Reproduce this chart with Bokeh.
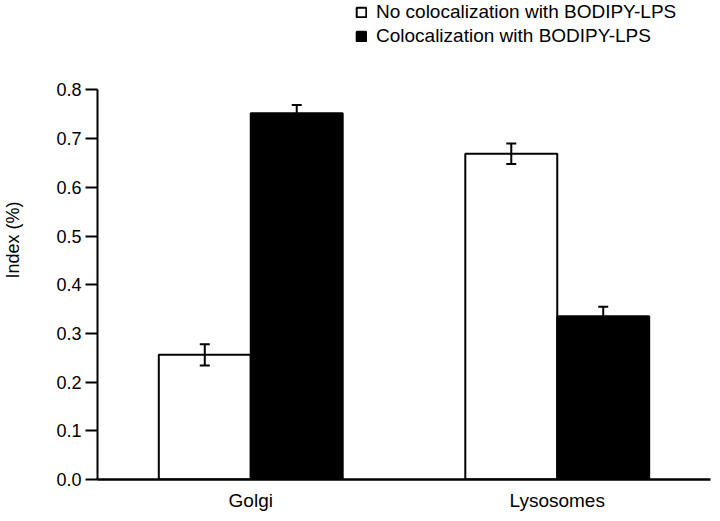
from bokeh.plotting import figure
from bokeh.models import (ColumnDataSource, FactorRange, Range1d, FixedTicker, NumeralTickFormatter,
                          Whisker, TeeHead, Legend, LegendItem)
from bokeh.transform import dodge
from bokeh.embed import file_html
from bokeh.resources import INLINE

# ---- data ----
categories = ["Golgi", "Lysosomes"]
no_coloc = [0.256, 0.669]
no_coloc_err = [0.022, 0.021]
coloc = [0.752, 0.335]
coloc_err = [0.017, 0.020]
y_ticks = [0.0, 0.1, 0.2, 0.3, 0.4, 0.5, 0.6, 0.7, 0.8]
series_names = ["No colocalization with BODIPY-LPS", "Colocalization with BODIPY-LPS"]

FONT = "Liberation Sans"

src = ColumnDataSource(data=dict(
    cat=categories,
    no=no_coloc,
    no_lo=[v - e for v, e in zip(no_coloc, no_coloc_err)],
    no_hi=[v + e for v, e in zip(no_coloc, no_coloc_err)],
    co=coloc,
    co_lo=[v - e for v, e in zip(coloc, coloc_err)],
    co_hi=[v + e for v, e in zip(coloc, coloc_err)],
))

FRAME_H = 482
Y_TOP = 0.8 * FRAME_H / (FRAME_H - 90)

p = figure(width=711, height=513, output_backend="svg", toolbar_location=None,
           x_range=FactorRange(factors=categories), y_range=Range1d(0, Y_TOP),
           min_border_left=90, min_border_top=0, min_border_bottom=31, min_border_right=1)

p.outline_line_color = None
p.xgrid.grid_line_color = None
p.ygrid.grid_line_color = None
p.background_fill_color = "white"
p.border_fill_color = "white"

bw = 0.3
r_no = p.vbar(x=dodge("cat", -bw / 2, range=p.x_range), top="no", width=bw, source=src,
              fill_color="white", line_color="black", line_width=2)
r_co = p.vbar(x=dodge("cat", bw / 2, range=p.x_range), top="co", width=bw, source=src,
              fill_color="black", line_color="black", line_width=2)

for off, lo, hi in [(-bw / 2, "no_lo", "no_hi"), (bw / 2, "co_lo", "co_hi")]:
    w = Whisker(base=dodge("cat", off, range=p.x_range), lower=lo, upper=hi, source=src,
                level="overlay", line_color="black", line_width=2,
                upper_head=TeeHead(size=10, line_color="black", line_width=2),
                lower_head=TeeHead(size=10, line_color="black", line_width=2))
    p.add_layout(w)

# y axis
ya = p.yaxis[0]
ya.bounds = (0, 0.8)
ya.ticker = FixedTicker(ticks=y_ticks)
ya.formatter = NumeralTickFormatter(format="0.0")
ya.minor_tick_line_color = None
ya.major_tick_in = 0
ya.major_tick_out = 12
ya.major_tick_line_width = 2
ya.axis_line_width = 2
ya.major_label_standoff = 4
ya.major_label_text_font = FONT
ya.major_label_text_font_size = "18px"
ya.major_label_text_color = "black"
ya.axis_label = "Index (%)"
ya.axis_label_text_font = FONT
ya.axis_label_text_font_size = "18px"
ya.axis_label_text_font_style = "normal"
ya.axis_label_text_color = "black"
ya.axis_label_standoff = 30

# x axis
xa = p.xaxis[0]
xa.major_tick_line_color = None
xa.minor_tick_line_color = None
xa.major_tick_out = 0
xa.major_tick_in = 0
xa.axis_line_width = 2.5
xa.major_label_standoff = 10
xa.axis_label_standoff = 0
xa.major_label_text_font = FONT
xa.major_label_text_font_size = "19px"
xa.major_label_text_color = "black"

legend = Legend(items=[LegendItem(label=series_names[0], renderers=[r_no]),
                       LegendItem(label=series_names[1], renderers=[r_co])],
                location=(258, FRAME_H - 50), orientation="vertical",
                glyph_width=12, glyph_height=12, label_height=20, label_width=20,
                label_standoff=9, spacing=2, padding=0, margin=0,
                border_line_color=None, background_fill_alpha=0,
                label_text_font=FONT, label_text_font_size="19px", label_text_color="black")
p.add_layout(legend, "center")

open("out.html", "w").write(file_html(p, INLINE))
